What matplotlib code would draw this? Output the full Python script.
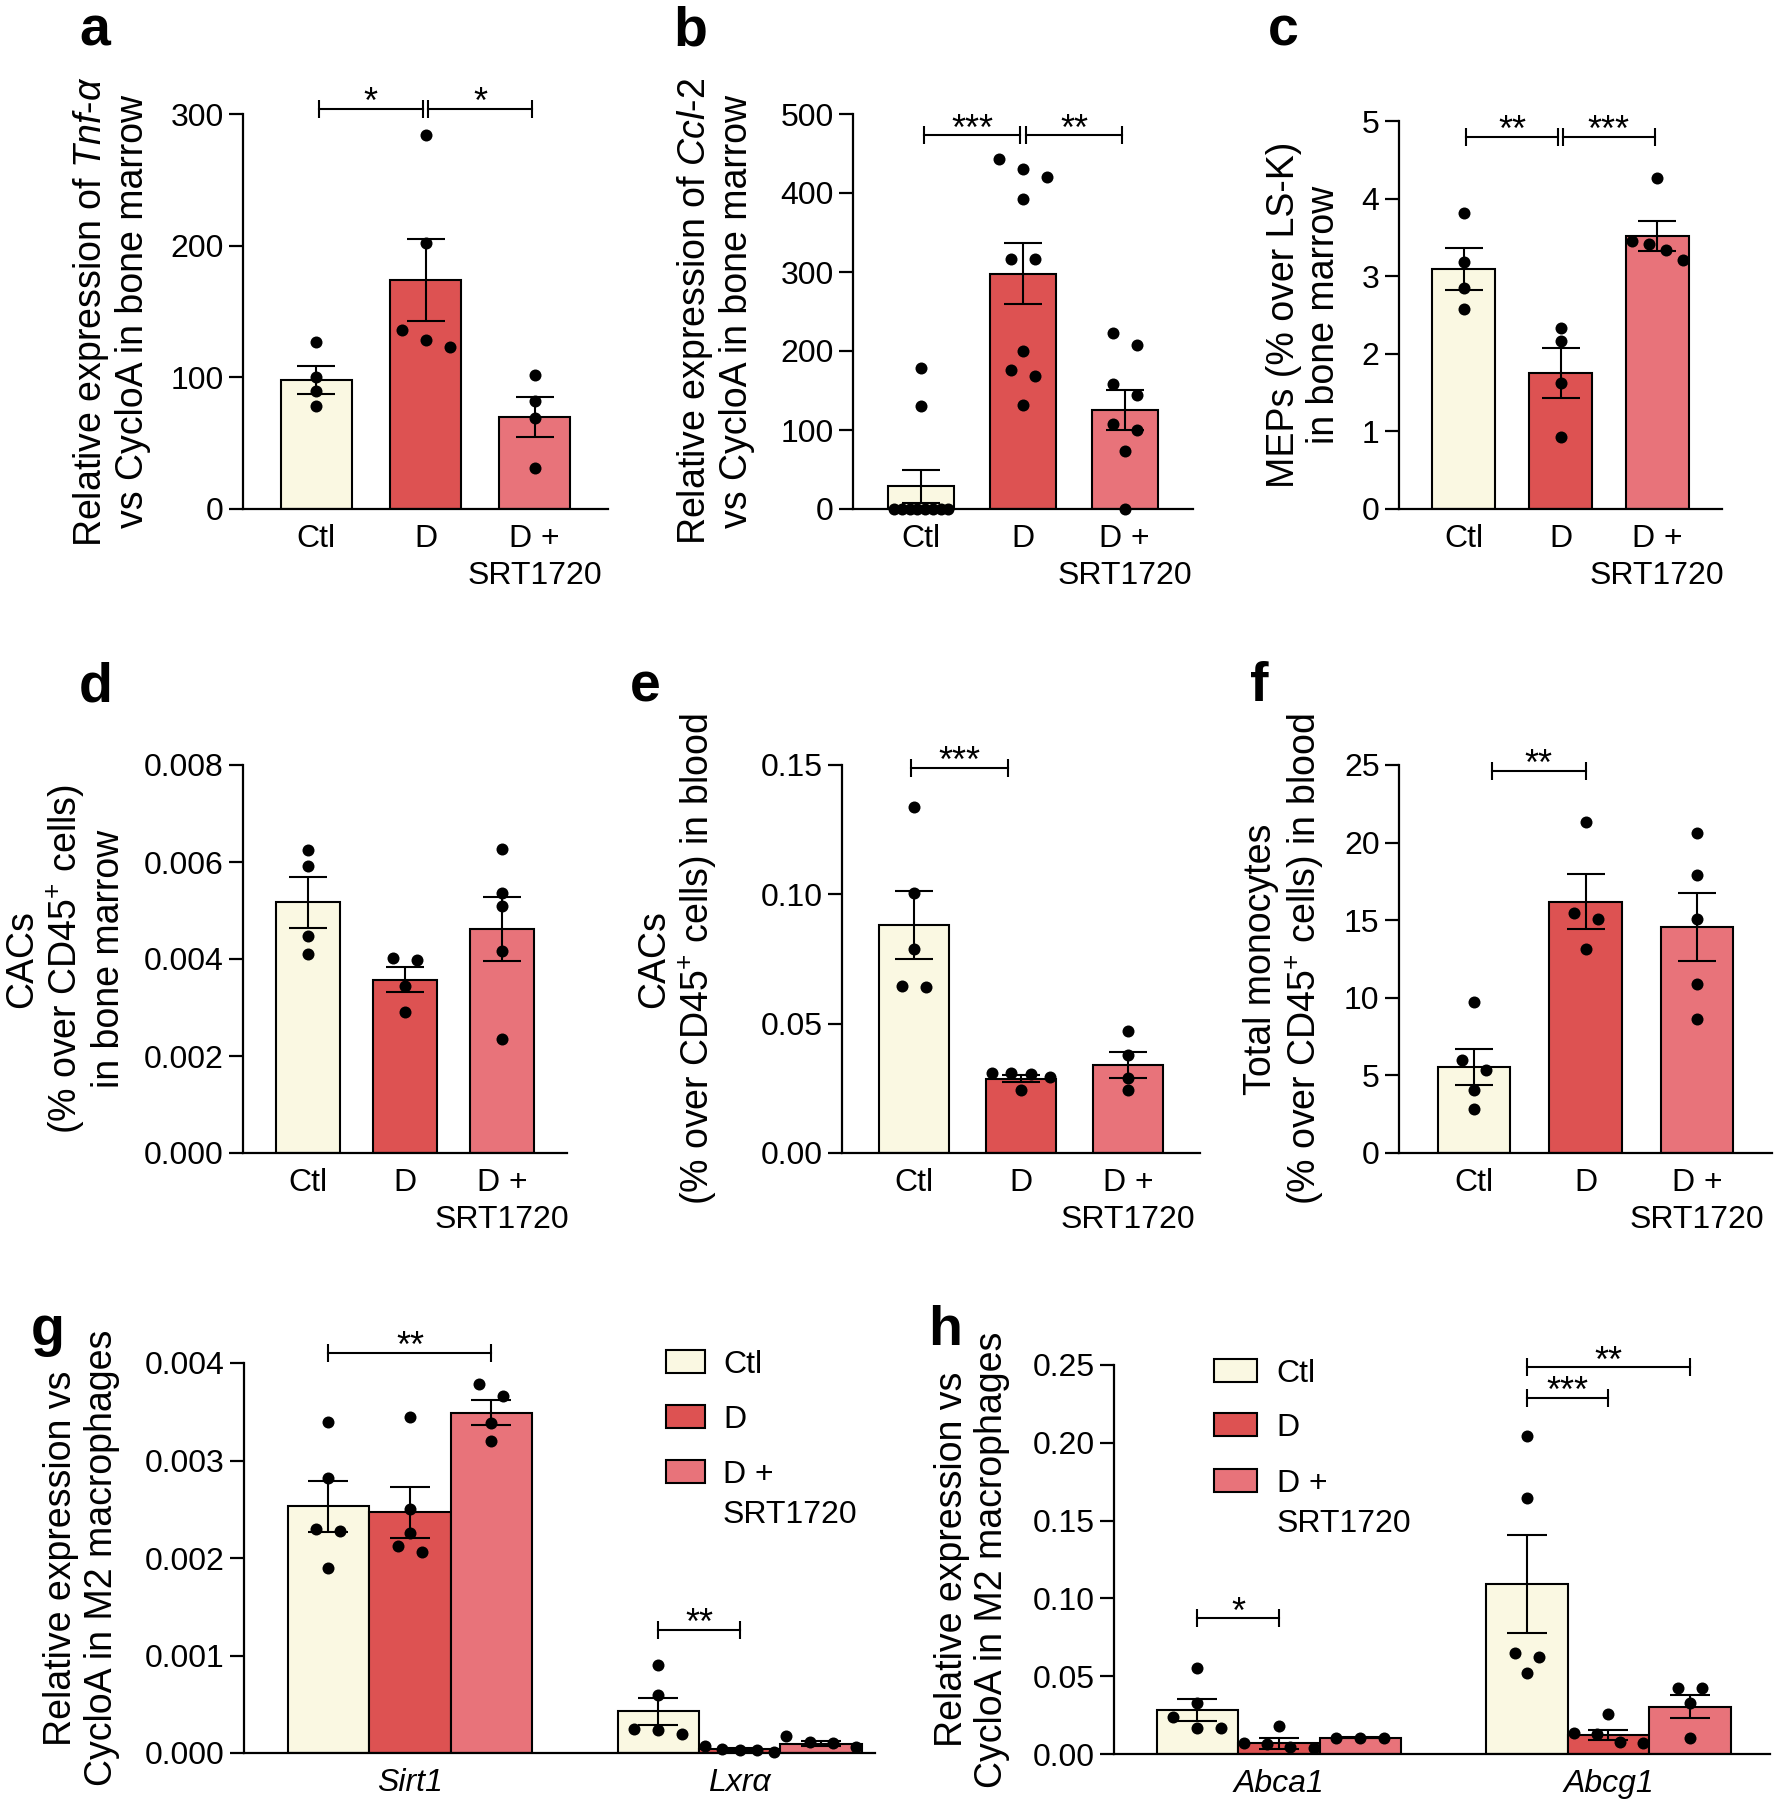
import numpy as np
import matplotlib
matplotlib.use('Agg')
import matplotlib.pyplot as plt
from matplotlib.patches import Rectangle

plt.rcParams['font.family'] = ['Liberation Sans', 'DejaVu Sans']
plt.rcParams['mathtext.fontset'] = 'custom'
plt.rcParams['mathtext.rm'] = 'Liberation Sans'
plt.rcParams['mathtext.it'] = 'Liberation Sans:italic'
plt.rcParams['mathtext.bf'] = 'Liberation Sans:bold'
plt.rcParams['axes.linewidth'] = 1.6

W, H = 1776, 1800
DOT = 12  # dot diameter in px

groups = ['Ctl', 'D', 'D +\nSRT1720']
colors = ['#FAF8E2', '#DD5252', '#E8737A']

# a: Tnf-a in bone marrow
tnf_pts = [[127, 100, 90, 78], [284, 202, 136, 123, 128], [101.5, 82, 69, 31.5]]
tnf_mean = [98, 174, 70]
tnf_sem = [10.5, 31, 15]

# b: Ccl-2 in bone marrow
ccl_pts = [[179, 130, 0, 0, 0, 0, 0, 0, 0, 0],
           [443, 431, 420, 393, 316, 316, 200, 176, 168, 132],
           [223, 208, 158, 144, 108, 100, 73, 0]]
ccl_mean = [29, 298, 125]
ccl_sem = [21, 39, 25.5]

# c: MEPs
mep_pts = [[3.81, 3.18, 2.85, 2.58], [2.33, 2.16, 1.62, 0.93], [4.26, 3.46, 3.41, 3.34, 3.21]]
mep_mean = [3.09, 1.75, 3.52]
mep_sem = [0.27, 0.32, 0.19]

# d: CACs in bone marrow
cacbm_pts = [[0.00624, 0.00591, 0.00448, 0.0041], [0.00398, 0.00402, 0.00345, 0.0029],
             [0.00626, 0.00536, 0.0051, 0.00416, 0.00235]]
cacbm_mean = [0.00517, 0.00357, 0.00461]
cacbm_sem = [0.00053, 0.00026, 0.00066]

# e: CACs in blood
cacbl_pts = [[0.1338, 0.1007, 0.0788, 0.064, 0.0646], [0.0311, 0.0306, 0.0311, 0.0294, 0.0242],
             [0.0471, 0.0377, 0.0291, 0.0242]]
cacbl_mean = [0.0882, 0.0288, 0.0341]
cacbl_sem = [0.0132, 0.0012, 0.0051]

# f: total monocytes in blood
mono_pts = [[9.72, 6.02, 5.36, 4.03, 2.81], [21.33, 15.46, 15.1, 13.14], [20.6, 17.9, 15.05, 10.92, 8.62]]
mono_mean = [5.54, 16.2, 14.54]
mono_sem = [1.19, 1.75, 2.2]

# g: M2 macrophages, Sirt1 / Lxra
genes_g = ['Sirt1', 'Lxrα']
sirt1_pts = [[0.00339, 0.00282, 0.00230, 0.00228, 0.00190], [0.00345, 0.00250, 0.00226, 0.00212, 0.00206],
             [0.00378, 0.00366, 0.00338, 0.00320]]
sirt1_mean = [0.00253, 0.00247, 0.00349]
sirt1_sem = [0.00026, 0.00026, 0.00013]
lxra_pts = [[0.00090, 0.00060, 0.00024, 0.000245, 0.00019], [0.00007, 0.00004, 0.00003, 0.00003, 0.00001],
            [0.00017, 0.00011, 0.00010, 0.00006]]
lxra_mean = [0.000427, 0.000036, 0.000096]
lxra_sem = [0.000137, 0.000012, 0.000025]

# h: M2 macrophages, Abca1 / Abcg1
genes_h = ['Abca1', 'Abcg1']
abca1_pts = [[0.0555, 0.0326, 0.024, 0.0165, 0.0169], [0.018, 0.0069, 0.0047, 0.0036, 0.0064],
             [0.0105, 0.0105, 0.0105]]
abca1_mean = [0.0283, 0.0069, 0.0105]
abca1_sem = [0.0073, 0.0036, 0.0004]
abcg1_pts = [[0.2046, 0.1647, 0.0647, 0.0621, 0.0523], [0.0255, 0.0133, 0.0126, 0.0079, 0.0073],
             [0.0426, 0.0426, 0.0326, 0.0101]]
abcg1_mean = [0.1093, 0.0124, 0.0304]
abcg1_sem = [0.0314, 0.0033, 0.0073]

fig = plt.figure(figsize=(W / 100, H / 100), dpi=100)


def panel_axes(l, r, t, b, xlim, ylim, yticks, fmt):
    ax = fig.add_axes([l / W, 1 - b / H, (r - l) / W, (b - t) / H])
    ax.spines[['top', 'right']].set_visible(False)
    ax.set_xlim(*xlim)
    ax.set_ylim(*ylim)
    ax.set_yticks(yticks)
    ax.set_yticklabels([fmt % v for v in yticks])
    ax.tick_params(axis='y', length=10, width=1.6, labelsize=23, pad=4)
    ax.tick_params(axis='x', length=0, labelsize=23, pad=11)
    return ax


def px_scale(ax):
    bb = ax.get_position()
    x0, x1 = ax.get_xlim()
    y0, y1 = ax.get_ylim()
    return bb.width * W / (x1 - x0), bb.height * H / (y1 - y0)


def swarm(ax, x, vals, barw):
    xpx, ypx = px_scale(ax)
    vals = np.asarray(vals, float)
    order = np.argsort(-vals, kind='stable')
    clusters = []
    for i in order:
        if clusters and (vals[clusters[-1][-1]] - vals[i]) * ypx < DOT:
            clusters[-1].append(i)
        else:
            clusters.append([i])
    xs = np.full(len(vals), float(x))
    for c in clusters:
        n = len(c)
        if n > 1:
            step = min(2 * DOT, (barw * xpx - DOT) / (n - 1))
            xs[c] = x + (np.arange(n) - (n - 1) / 2) * step / xpx
    ax.scatter(xs, vals, s=(DOT / 1.389) ** 2, color='black', zorder=5, clip_on=False, linewidths=0)


def draw_bars(ax, xs, means, sems, pts, barw, capsize):
    for x, m, s, p, c in zip(xs, means, sems, pts, colors):
        ax.bar(x, m, barw, color=c, edgecolor='black', linewidth=1.5, zorder=2)
        ax.errorbar(x, m, yerr=s, color='black', capsize=capsize, capthick=1.5,
                    elinewidth=1.5, zorder=4)
        swarm(ax, x, p, barw)


def bracket(ax, x1, x2, y, label):
    xpx, ypx = px_scale(ax)
    hh = 9 / ypx
    ax.plot([x1, x2], [y, y], color='black', lw=1.5, clip_on=False, zorder=6)
    ax.vlines([x1, x2], y - hh, y + hh, color='black', lw=1.5, clip_on=False, zorder=6)
    ax.annotate(label, ((x1 + x2) / 2, y), xytext=(0, -3), textcoords='offset points',
                ha='center', va='baseline', fontsize=26, annotation_clip=False)


def three_bar_panel(box, ylim, yticks, fmt, means, sems, pts, ylabel, pad, brackets):
    ax = panel_axes(*box, (-0.67, 2.67), ylim, yticks, fmt)
    x = np.arange(3)
    draw_bars(ax, x, means, sems, pts, 0.65, 13.5)
    ax.set_xticks(x)
    ax.set_xticklabels(groups, linespacing=1.3)
    ax.set_ylabel(ylabel, fontsize=27, labelpad=pad, linespacing=1.15)
    for x1, x2, y, lab in brackets:
        bracket(ax, x1, x2, y, lab)
    return ax


def gene_panel(box, xlim, ylim, yticks, fmt, genes, data, pad, brackets, leg):
    ax = panel_axes(*box, xlim, ylim, yticks, fmt)
    w = 0.247
    for gi, (means, sems, pts) in enumerate(data):
        draw_bars(ax, gi + np.array([-w, 0, w]), means, sems, pts, w, 14.5)
    ax.set_xticks(range(len(genes)))
    ax.set_xticklabels(genes, fontstyle='italic')
    ax.set_ylabel('Relative expression vs\nCycloA in M2 macrophages', fontsize=27,
                  labelpad=pad, linespacing=1.15)
    for x1, x2, y, lab in brackets:
        bracket(ax, x1, x2, y, lab)
    # legend drawn as boxes + labels; extra label lines go below the first one
    sx, sw, tx, ys = leg
    hpx = ax.get_position().height * H
    sh = 23 / hpx
    for y, lab, c in zip(ys, groups, colors):
        ax.add_patch(Rectangle((sx, y - sh / 2), sw, sh, transform=ax.transAxes, facecolor=c,
                               edgecolor='black', lw=1.5, clip_on=False))
        for k, line in enumerate(lab.split('\n')):
            ax.text(tx, y - (11.5 + 40 * k) / hpx, line, transform=ax.transAxes, fontsize=23,
                    va='baseline', ha='left')
    return ax


ins = 0.025
three_bar_panel((243, 608, 114, 509), (0, 300), [0, 100, 200, 300], '%d', tnf_mean, tnf_sem, tnf_pts,
                'Relative expression of $\\mathit{Tnf}$-$\\mathit{\\alpha}$\nvs CycloA in bone marrow', 14,
                [(0 + ins, 1 - ins, 304, '*'), (1 + ins, 2 - ins, 304, '*')])
three_bar_panel((853, 1193, 114, 509), (0, 500), [0, 100, 200, 300, 400, 500], '%d', ccl_mean, ccl_sem, ccl_pts,
                'Relative expression of $\\mathit{Ccl}$-$\\mathit{2}$\nvs CycloA in bone marrow', 18,
                [(0 + ins, 1 - ins, 473, '***'), (1 + ins, 2 - ins, 473, '**')])
three_bar_panel((1399, 1722, 121, 509), (0, 5), [0, 1, 2, 3, 4, 5], '%d', mep_mean, mep_sem, mep_pts,
                'MEPs (% over LS-K)\nin bone marrow', 14,
                [(0 + ins, 1 - ins, 4.8, '**'), (1 + ins, 2 - ins, 4.8, '***')])
three_bar_panel((243, 567, 765, 1153), (0, 0.008), [0, 0.002, 0.004, 0.006, 0.008], '%.3f',
                cacbm_mean, cacbm_sem, cacbm_pts,
                'CACs\n(% over CD45$^{+}$ cells)\nin bone marrow', 12, [])
three_bar_panel((842, 1200, 765, 1153), (0, 0.15), [0, 0.05, 0.10, 0.15], '%.2f',
                cacbl_mean, cacbl_sem, cacbl_pts,
                'CACs\n(% over CD45$^{+}$ cells) in blood', 30, [(-0.03, 0.88, 0.149, '***')])
three_bar_panel((1399, 1772, 765, 1153), (0, 25), [0, 5, 10, 15, 20, 25], '%d',
                mono_mean, mono_sem, mono_pts,
                'Total monocytes\n(% over CD45$^{+}$ cells) in blood', 13, [(0.16, 1.0, 24.6, '**')])

w = 0.247
gene_panel((244, 875, 1363, 1753), (-0.503, 1.41), (0, 0.004), [0, 0.001, 0.002, 0.003, 0.004], '%.3f',
           genes_g, [(sirt1_mean, sirt1_sem, sirt1_pts), (lxra_mean, lxra_sem, lxra_pts)], 18,
           [(-w, w, 0.0041, '**'), (1 - w, 1, 0.00126, '**')],
           (0.669, 0.062, 0.759, [1.005, 0.864, 0.723]))
gene_panel((1114, 1770, 1365, 1754), (-0.5, 1.49), (0, 0.25), [0, 0.05, 0.10, 0.15, 0.20, 0.25], '%.2f',
           genes_h, [(abca1_mean, abca1_sem, abca1_pts), (abcg1_mean, abcg1_sem, abcg1_pts)], 16,
           [(-w, 0, 0.0872, '*'), (1 - w, 1, 0.229, '***'), (1 - w, 1 + w, 0.2485, '**')],
           (0.152, 0.066, 0.248, [0.987, 0.846, 0.704]))

# panel letters
for lab, x, y in [('a', 79, 46), ('b', 673, 46), ('c', 1268, 46), ('d', 79, 701), ('e', 630, 701),
                  ('f', 1250, 701), ('g', 31, 1345), ('h', 928, 1345)]:
    fig.text(x / W, 1 - y / H, lab, fontsize=40, fontweight='bold', va='baseline', ha='left')

fig.savefig('out.png', dpi=100)
